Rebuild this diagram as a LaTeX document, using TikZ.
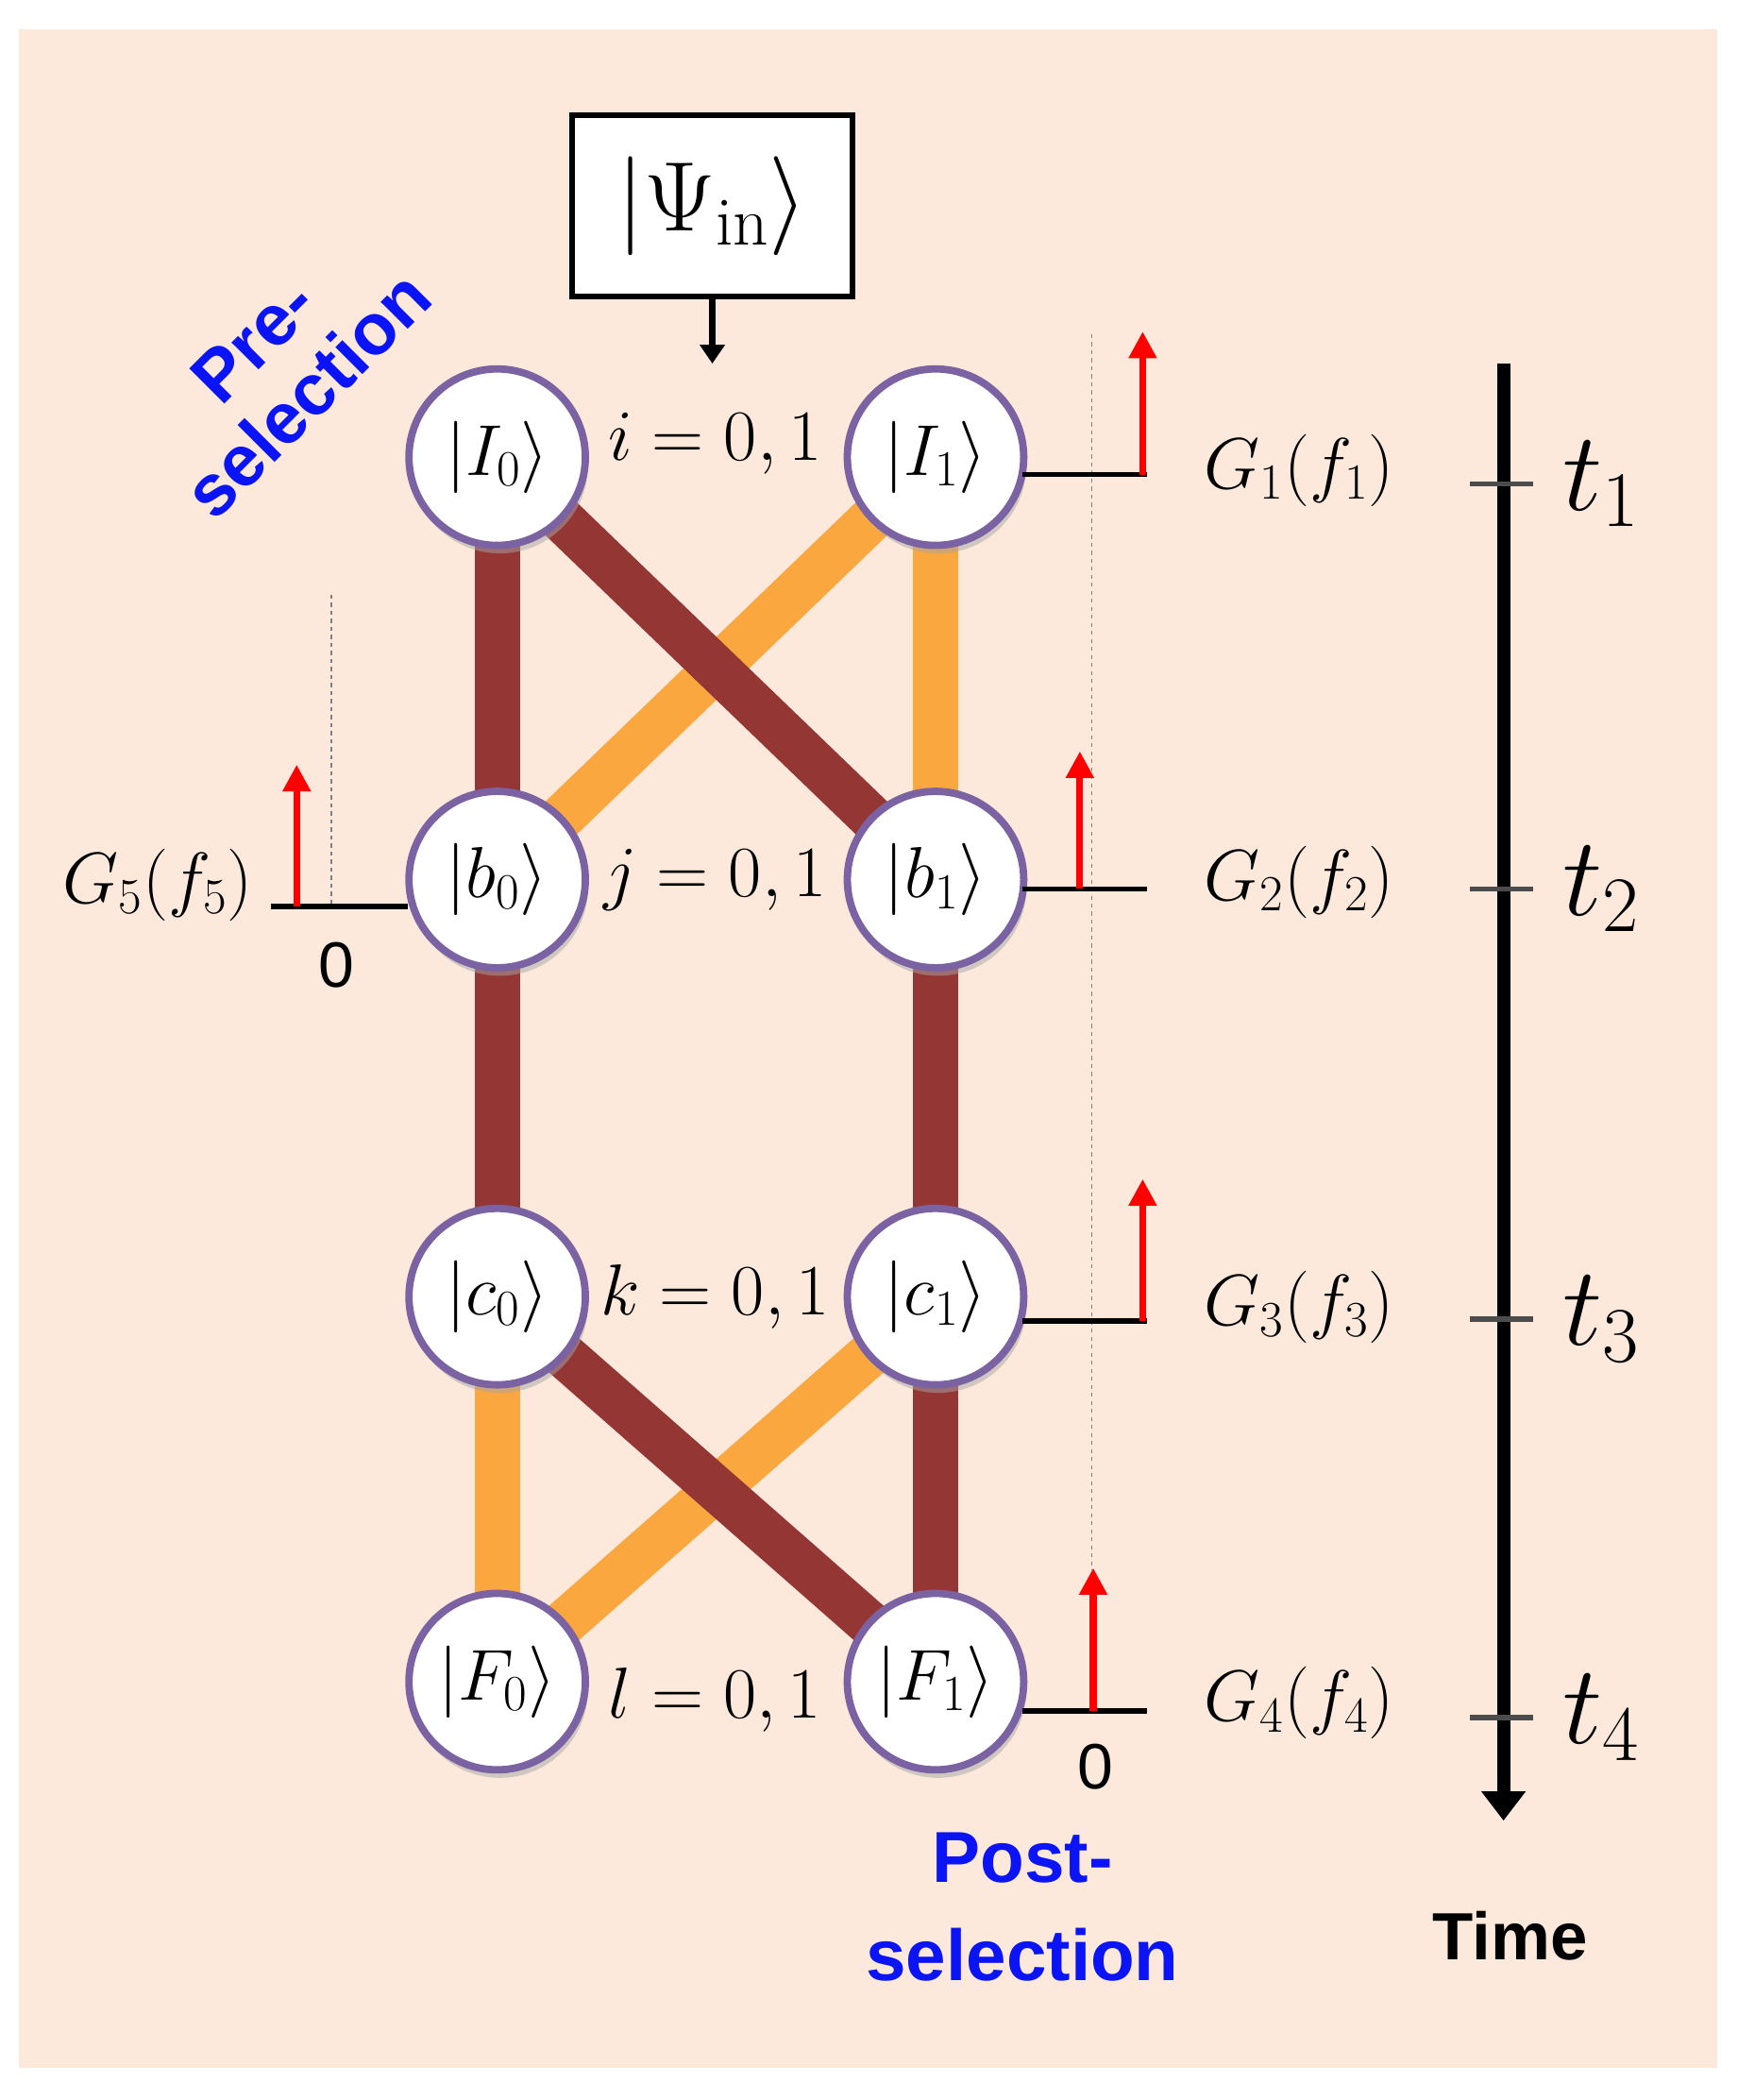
\RequirePackage{fix-cm}
\documentclass[tikz,border=0pt]{standalone}
\usepackage{fontspec}
\newfontfamily\sfx{Liberation Sans}
\usetikzlibrary{arrows.meta,shadows}
\definecolor{bg}{HTML}{FCE9DB}
\definecolor{dred}{HTML}{943634}
\definecolor{org}{HTML}{F9A73E}
\definecolor{purp}{HTML}{7B62A3}
\definecolor{blu}{HTML}{0A14F5}
\begin{document}
\begin{tikzpicture}[x=1pt,y=-1pt,
 st/.style={circle,draw=purp,line width=5.5pt,fill=white,minimum size=132pt,inner sep=0pt,font=\fontsize{54}{60}\selectfont,drop shadow={shadow xshift=2pt,shadow yshift=-6pt,fill=gray!70}},
 rd/.style={dred,line width=34pt},
 og/.style={org,line width=34pt},
 lab/.style={font=\fontsize{54}{60}\selectfont},
 hl/.style={line width=4pt},
 ra/.style={red,line width=5pt,-{Triangle[width=20pt,length=20pt]}},
 dt/.style={gray,dashed,line width=1.2pt,dash pattern=on 3pt off 3pt},
 tk/.style={line width=4pt,gray!60!black},
 tl/.style={font=\fontsize{84}{90}\selectfont},
 bl/.style={blu,font=\sfx\bfseries\fontsize{54}{58}\selectfont}]
\useasboundingbox (0,0) rectangle (1300,1571);
\fill[bg] (14,22) rectangle (1285,1547);
\coordinate (pI0) at (372,342); \coordinate (pI1) at (700,342);
\coordinate (pb0) at (372,658); \coordinate (pb1) at (700,658);
\coordinate (pc0) at (372,970); \coordinate (pc1) at (700,970);
\coordinate (pF0) at (372,1258); \coordinate (pF1) at (700,1258);
\draw[rd] (pI0)--(pb0); \draw[og] (pI1)--(pb1);
\draw[og] (pI1)--(pb0); \draw[rd] (pI0)--(pb1);
\draw[rd] (pb0)--(pc0); \draw[rd] (pb1)--(pc1);
\draw[og] (pc0)--(pF0); \draw[rd] (pc1)--(pF1);
\draw[og] (pc1)--(pF0); \draw[rd] (pc0)--(pF1);
\node[st] (I0) at (pI0) {$|I_0\rangle$};
\node[st] (I1) at (pI1) {$|I_1\rangle$};
\node[st] (b0) at (pb0) {$|b_0\rangle$};
\node[st] (b1) at (pb1) {$|b_1\rangle$};
\node[st] (c0) at (pc0) {$|c_0\rangle$};
\node[st] (c1) at (pc1) {$|c_1\rangle$};
\node[st] (F0) at (pF0) {$|F_0\rangle$};
\node[st] (F1) at (pF1) {$|F_1\rangle$};
\node[lab] (li) at (535,332) {$i=0,1$};
\node[lab] (lj) at (535,658) {$j=0,1$};
\node[lab] (lk) at (535,970) {$k=0,1$};
\node[lab] (ll) at (535,1272) {$l=0,1$};
\node[draw,line width=4pt,fill=white,minimum width=210pt,minimum height=136pt,font=\fontsize{74}{80}\selectfont] (psi) at (533,154) {$|\Psi_{\rm in}\rangle$};
\coordinate (pa) at (533,272);
\draw[line width=5pt,-{Triangle[width=18pt,length=14pt]}] (psi.south) -- (pa);
% right side
\coordinate (d1) at (817,250); \coordinate (d2) at (817,1175);
\draw[dt] (d1)--(d2);
\coordinate (e1) at (858,355); \coordinate (e2) at (858,665); \coordinate (e3) at (858,988); \coordinate (e4) at (858,1280);
\coordinate (s1) at (765,355); \coordinate (s2) at (765,665); \coordinate (s3) at (765,988); \coordinate (s4) at (765,1280);
\draw[hl] (s1)--(e1); \draw[hl] (s2)--(e2); \draw[hl] (s3)--(e3); \draw[hl] (s4)--(e4);
\coordinate (a1) at (855,355); \coordinate (a1t) at (855,248);
\coordinate (a2) at (808,665); \coordinate (a2t) at (808,562);
\coordinate (a3) at (855,988); \coordinate (a3t) at (855,882);
\coordinate (a4) at (818,1280); \coordinate (a4t) at (818,1173);
\draw[ra] (a1)--(a1t); \draw[ra] (a2)--(a2t); \draw[ra] (a3)--(a3t); \draw[ra] (a4)--(a4t);
\node[font=\sfx\fontsize{48}{54}\selectfont] (z1) at (820,1322) {0};
\node[lab] (G1) at (972,352) {$G_1(f_1)$};
\node[lab] (G2) at (972,660) {$G_2(f_2)$};
\node[lab] (G3) at (972,978) {$G_3(f_3)$};
\node[lab] (G4) at (972,1274) {$G_4(f_4)$};
% left side
\coordinate (l1) at (248,445); \coordinate (l2) at (248,678);
\draw[dt] (l1)--(l2);
\coordinate (h1) at (203,678); \coordinate (h2) at (305,678);
\draw[hl] (h1)--(h2);
\coordinate (a5) at (222,678); \coordinate (a5t) at (222,572);
\draw[ra] (a5)--(a5t);
\node[lab] (G5) at (118,662) {$G_5(f_5)$};
\node[font=\sfx\fontsize{48}{54}\selectfont] (z2) at (252,722) {0};
% time axis
\coordinate (ta) at (1125,272); \coordinate (tb) at (1125,1362);
\draw[line width=10pt,-{Triangle[width=32pt,length=22pt]}] (ta)--(tb);
\foreach \y/\n in {362/1,665/2,987/3,1285/4}{
 \coordinate (k\n a) at (1100,\y); \coordinate (k\n b) at (1147,\y);
 \draw[tk] (k\n a)--(k\n b);
 \node[tl] (t\n) at (1198,\y) {$t_\n$};}
\node[font=\sfx\bfseries\fontsize{50}{54}\selectfont] (time) at (1130,1448) {Time};
\node[bl] (post1) at (765,1390) {Post-};
\node[bl] (post2) at (765,1462) {selection};
\node[bl,rotate=45,align=center] (pre) at (210,275) {Pre-\\selection};
\end{tikzpicture}
\end{document}
